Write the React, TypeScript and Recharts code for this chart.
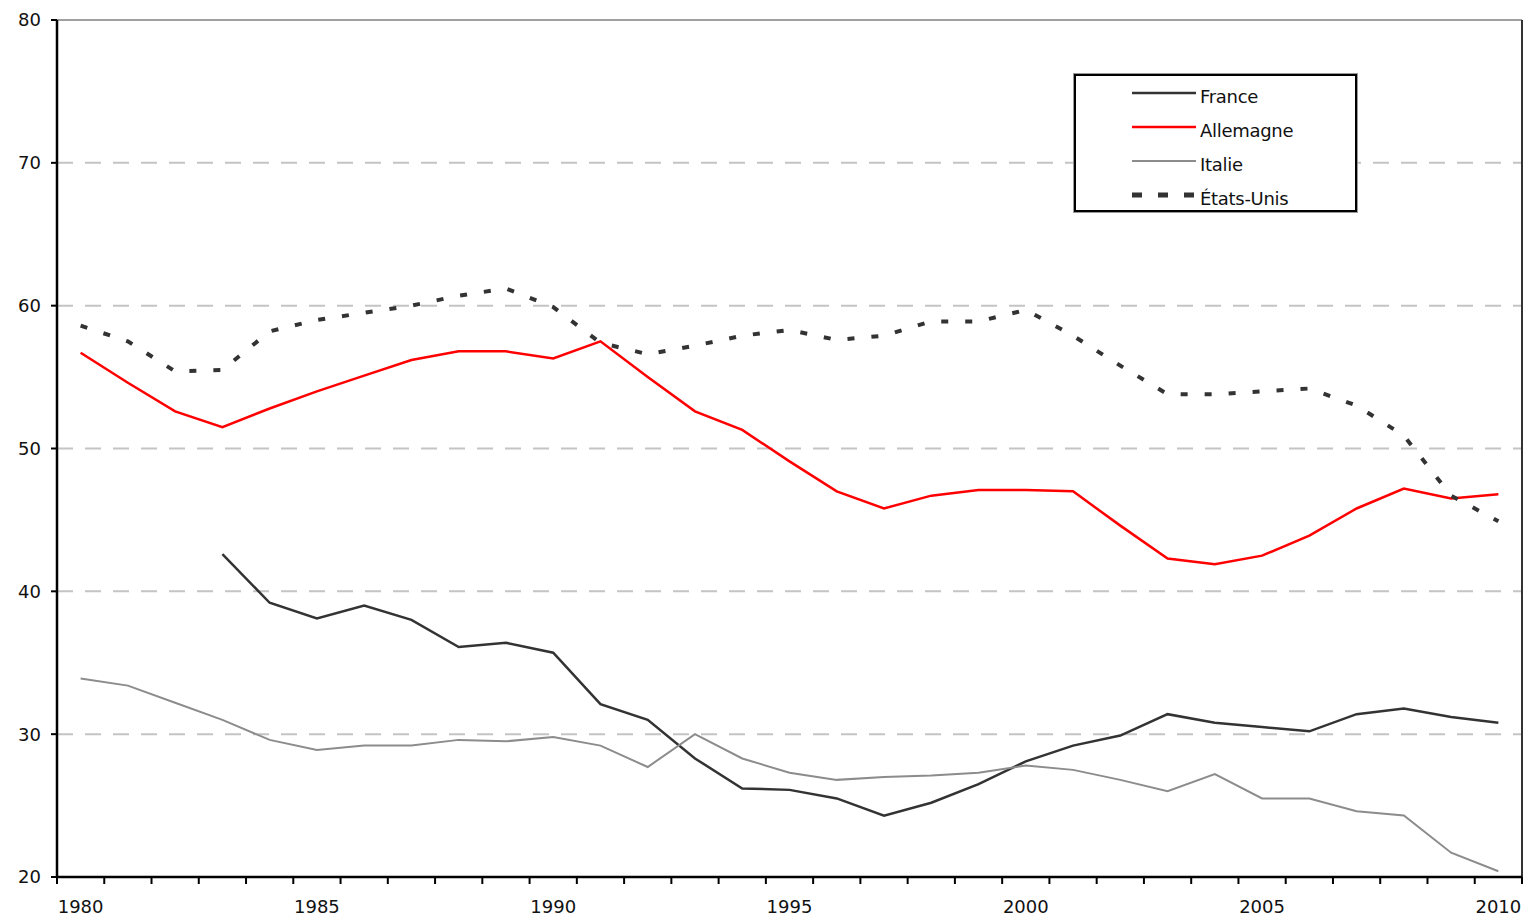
import { LineChart, Line, XAxis, YAxis, CartesianGrid, ReferenceLine } from "recharts";

const years = [
  1980, 1981, 1982, 1983, 1984, 1985, 1986, 1987, 1988, 1989,
  1990, 1991, 1992, 1993, 1994, 1995, 1996, 1997, 1998, 1999,
  2000, 2001, 2002, 2003, 2004, 2005, 2006, 2007, 2008, 2009, 2010,
];

const france = [
  null, null, null, 42.6, 39.2, 38.1, 39.0, 38.0, 36.1, 36.4,
  35.7, 32.1, 31.0, 28.3, 26.2, 26.1, 25.5, 24.3, 25.2, 26.5,
  28.1, 29.2, 29.9, 31.4, 30.8, 30.5, 30.2, 31.4, 31.8, 31.2, 30.8,
];

const allemagne = [
  56.7, 54.6, 52.6, 51.5, 52.8, 54.0, 55.1, 56.2, 56.8, 56.8,
  56.3, 57.5, 55.0, 52.6, 51.3, 49.1, 47.0, 45.8, 46.7, 47.1,
  47.1, 47.0, 44.6, 42.3, 41.9, 42.5, 43.9, 45.8, 47.2, 46.5, 46.8,
];

const italie = [
  33.9, 33.4, 32.2, 31.0, 29.6, 28.9, 29.2, 29.2, 29.6, 29.5,
  29.8, 29.2, 27.7, 30.0, 28.3, 27.3, 26.8, 27.0, 27.1, 27.3,
  27.8, 27.5, 26.8, 26.0, 27.2, 25.5, 25.5, 24.6, 24.3, 21.7, 20.4,
];

const etatsUnis = [
  58.6, 57.5, 55.4, 55.5, 58.2, 59.0, 59.5, 60.0, 60.7, 61.2,
  59.9, 57.4, 56.6, 57.2, 57.9, 58.3, 57.6, 57.9, 58.9, 58.9,
  59.7, 57.9, 55.8, 53.8, 53.8, 54.0, 54.2, 53.0, 50.9, 46.7, 44.9,
];

const yTicks = [20, 30, 40, 50, 60, 70, 80];
const labelYears = [1980, 1985, 1990, 1995, 2000, 2005, 2010];

const series = [
  { key: "france", name: "France", color: "#333333", width: 2.5, dash: undefined },
  { key: "allemagne", name: "Allemagne", color: "#ff0000", width: 2.5, dash: undefined },
  { key: "italie", name: "Italie", color: "#8c8c8c", width: 2, dash: undefined },
  { key: "etatsUnis", name: "États-Unis", color: "#333333", width: 4, dash: "7 17" },
];

const data = years.map((year, i) => ({
  year,
  france: france[i],
  allemagne: allemagne[i],
  italie: italie[i],
  etatsUnis: etatsUnis[i],
}));

// tick marks sit between the years, labels every 5 years on the year itself
const boundaries = [...years.map((y) => y - 0.5), years[years.length - 1] + 0.5];
const xTicks = [...boundaries, ...labelYears].sort((a, b) => a - b);

const FONT = "'DejaVu Sans', Verdana, sans-serif";

function XTick(props: any) {
  const { x, y, payload } = props;
  const v = payload.value;
  if (Number.isInteger(v)) {
    return (
      <text x={x} y={y + 36} textAnchor="middle" fontSize={18} fontFamily={FONT} fill="#111">
        {v}
      </text>
    );
  }
  return <line x1={x} x2={x} y1={y} y2={y + 7} stroke="#000" strokeWidth={2} />;
}

function LegendBox() {
  return (
    <div
      style={{
        position: "absolute",
        left: 1074,
        top: 74,
        width: 279,
        height: 134,
        border: "2px solid #000",
        boxShadow: "0 0 0 1px #999",
        background: "#fff",
        fontFamily: FONT,
        fontSize: 18,
        color: "#111",
      }}
    >
      {series.map((s) => (
        <div key={s.key} style={{ display: "flex", alignItems: "center", height: 34 }}>
          <svg width={64} height={10} style={{ marginLeft: 56, marginRight: 4 }}>
            <line
              x1={0}
              x2={64}
              y1={5}
              y2={5}
              stroke={s.color}
              strokeWidth={s.dash ? 5 : s.width}
              strokeDasharray={s.dash ? "10 16" : undefined}
            />
          </svg>
          <span style={{ position: "relative", top: 3, letterSpacing: -0.3 }}>{s.name}</span>
        </div>
      ))}
    </div>
  );
}

export default function App() {
  return (
    <div style={{ position: "absolute", left: 0, top: 0, width: 1524, height: 921, background: "#fff" }}>
      <LineChart width={1524} height={921} data={data} margin={{ top: 20, right: 2, bottom: 0, left: 0 }}>
        <CartesianGrid horizontal vertical={false} stroke="#c4c4c4" strokeWidth={2} strokeDasharray="16 12" />
        <XAxis
          dataKey="year"
          type="number"
          domain={[1979.5, 2010.5]}
          ticks={xTicks}
          interval={0}
          height={44}
          tickSize={0}
          tickMargin={0}
          tickLine={false}
          tick={<XTick />}
          axisLine={{ stroke: "#000", strokeWidth: 2.5 }}
        />
        <YAxis
          domain={[20, 80]}
          ticks={yTicks}
          width={57}
          tickSize={6}
          tickMargin={10}
          interval={0}
          axisLine={{ stroke: "#000", strokeWidth: 2.5 }}
          tickLine={{ stroke: "#000", strokeWidth: 2 }}
          tick={{ fontSize: 18, fontFamily: FONT, fill: "#111" }}
        />
        <ReferenceLine y={80} stroke="#a0a0a0" strokeWidth={2} />
        <ReferenceLine x={2010.5} stroke="#333" strokeWidth={2} />
        {series.map((s) => (
          <Line
            key={s.key}
            dataKey={s.key}
            name={s.name}
            stroke={s.color}
            strokeWidth={s.width}
            strokeDasharray={s.dash}
            dot={false}
            activeDot={false}
            isAnimationActive={false}
          />
        ))}
      </LineChart>
      <LegendBox />
    </div>
  );
}
